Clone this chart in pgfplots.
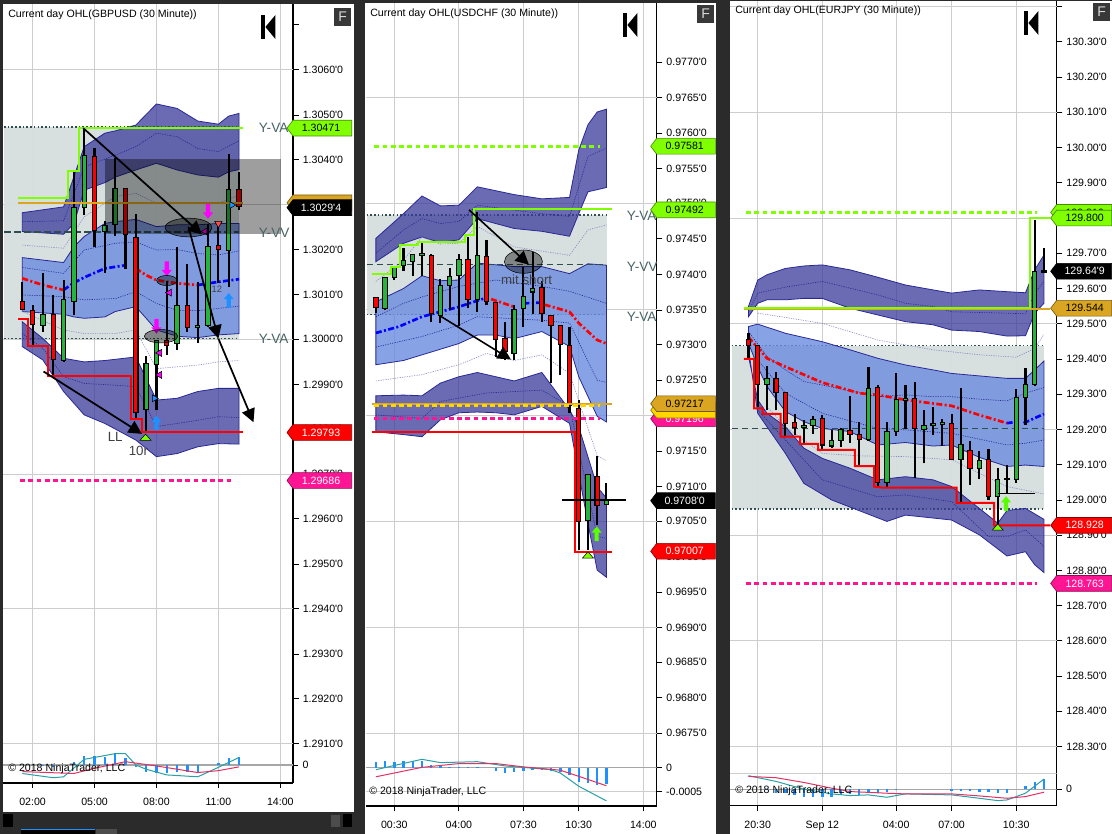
\documentclass[border=0pt]{standalone}
\usepackage{fontspec}
\setmainfont{Liberation Sans}
\usepackage{pgfplots}
\pgfplotsset{compat=1.18}
\usetikzlibrary{arrows.meta}
\definecolor{cr}{RGB}{255,0,0}
\definecolor{cg}{RGB}{40,180,60}
\definecolor{clime}{RGB}{128,255,0}
\definecolor{cgold}{RGB}{218,165,32}
\definecolor{cyel}{RGB}{255,215,0}
\definecolor{cpink}{RGB}{255,20,147}
\definecolor{cmag}{RGB}{255,0,255}
\definecolor{cslate}{RGB}{47,79,79}
\definecolor{cva}{RGB}{214,222,222}
\definecolor{gridc}{RGB}{205,205,205}
\definecolor{bandd}{RGB}{58,58,154}
\definecolor{bandm}{RGB}{106,140,224}
\definecolor{bedge}{RGB}{40,40,150}
\definecolor{cblue}{RGB}{30,144,255}
\definecolor{cteal}{RGB}{40,160,165}
\definecolor{csig}{RGB}{225,50,100}
\definecolor{cdark}{RGB}{43,43,43}
\definecolor{ctxt}{RGB}{70,100,100}
\newcommand\f{\fontsize{7.95}{9}\selectfont}
\newcommand\q{\textquotesingle}
\pgfdeclareplotmark{blockup}{%
  \pgfpathmoveto{\pgfqpoint{0pt}{1.55\pgfplotmarksize}}%
  \pgfpathlineto{\pgfqpoint{\pgfplotmarksize}{0.3\pgfplotmarksize}}%
  \pgfpathlineto{\pgfqpoint{0.42\pgfplotmarksize}{0.3\pgfplotmarksize}}%
  \pgfpathlineto{\pgfqpoint{0.42\pgfplotmarksize}{-1.4\pgfplotmarksize}}%
  \pgfpathlineto{\pgfqpoint{-0.42\pgfplotmarksize}{-1.4\pgfplotmarksize}}%
  \pgfpathlineto{\pgfqpoint{-0.42\pgfplotmarksize}{0.3\pgfplotmarksize}}%
  \pgfpathlineto{\pgfqpoint{-\pgfplotmarksize}{0.3\pgfplotmarksize}}%
  \pgfpathclose\pgfusepathqfill}
\newcommand\bw{0.42}
\newcommand\candle[6]{%
  \pgfmathsetmacro\xa{#1-\bw/2}\pgfmathsetmacro\xb{#1+\bw/2}%
  \addplot[forget plot,black,line width=1.6pt] coordinates {(#1,#2)(#1,#5)};
  \edef\tmpbody{\noexpand\addplot[forget plot,draw=black,fill=#6,line width=.8pt] coordinates {(\xa,#3)(\xb,#3)(\xb,#4)(\xa,#4)} -- cycle;}\tmpbody}
\newcommand\mk[5]{\addplot[forget plot,only marks,mark=#1,mark size=#4,mark options={rotate=#2,fill=#3,draw=none}] coordinates {#5};}
\newcommand\flattri[1]{\addplot[forget plot,only marks,mark=triangle*,mark size=4.8pt,mark options={yscale=.65,fill=clime,draw=none}] coordinates {#1};}
\newcommand\blob[4]{\addplot[forget plot,only marks,mark=*,mark size=#3,mark options={xscale=#4,fill=black,draw=none,fill opacity=.4}] coordinates {(#1,#2)};}
\pgfplotsset{
 pips/.style={y coord trafo/.code={\pgfmathparse{##1*10000}}},
 mainp/.style={scale only axis,axis y line*=right,axis x line*=bottom,x axis line style={draw=none},xtick style={draw=none},xticklabels={},xmajorgrids,clip=false,tick align=outside,major tick length=4.2pt,y tick style={black,line width=.6pt},y axis line style={black,line width=.9pt},yticklabel style={font=\f,anchor=west,xshift=-.4pt},major grid style={gridc,line width=.75pt},extra y tick style={grid=major},extra y tick labels={},scaled y ticks=false},
 oscp/.style={scale only axis,axis y line*=right,axis x line*=bottom,xmajorgrids,tick align=outside,major tick length=4pt,tick style={black,line width=.6pt},axis line style={black,line width=.9pt},yticklabel style={font=\f,anchor=west,xshift=-.4pt},xticklabel style={font=\f,yshift=-4pt},major grid style={gridc,line width=.75pt},scaled y ticks=false},
 db/.style={fill=bandd,fill opacity=.75,draw=bedge,line width=.6pt},
 mb/.style={fill=bandm,fill opacity=.8,draw=bedge,line width=.6pt},
 td/.style={bedge,line width=.45pt,dash pattern=on .9pt off .9pt},
 tl/.style={bedge!55,line width=.45pt,dash pattern=on .9pt off .9pt},
 ema/.style={line width=2pt,dash pattern=on 4.5pt off 1.8pt on 1.5pt off 1.8pt},
 vad/.style={cslate,line width=1.1pt,dash pattern=on 1.2pt off 1.6pt},
 vam/.style={cslate,line width=1.3pt,dash pattern=on 5pt off 2.5pt},
 pdash/.style={line width=2pt,dash pattern=on 3.6pt off 2.6pt},
 osbar/.style={ycomb,cblue,line width=1.8pt},
}
\newcommand\tagw{44pt}
\newcommand\pricetag[4]{%
  \draw[fill=#2,draw=#2!55!black,line width=.5pt] (#1) ++(-4.5pt,0) -- ++(4.5pt,5.9pt) -- ++(\tagw,0) -- ++(0,-11.8pt) -- ++(-\tagw,0) -- cycle;
  \node[text=#3,font=\f] at ([xshift=21pt]#1) {#4};}
\newcommand\kicon[2]{\fill[black] (#1*0.75pt,-#2*0.75pt) rectangle ++(3.3pt,-18pt);
  \fill[black] (#1*0.75pt+3.3pt,-#2*0.75pt-9pt) -- ++(7.5pt,9pt) -- ++(0,-18pt) -- cycle;}
\newcommand\ficon[2]{\fill[black!78] (#1*0.75pt,-#2*0.75pt) rectangle ++(12.8pt,-13.5pt);
  \node[text=white!85!black,font=\fontsize{10.5}{11}\selectfont] at (#1*0.75pt+6.4pt,-#2*0.75pt-6.75pt) {F};}
\newcommand\cpy[2]{\node[anchor=west,inner sep=0pt,font=\f] at (#1*0.75pt,-#2*0.75pt) {\textcopyright{} 2018 NinjaTrader, LLC};}
\newcommand\ttl[3]{\node[anchor=west,inner sep=0pt,font=\f] at (#1*0.75pt,-#2*0.75pt) {#3};}
\begin{document}
\begin{tikzpicture}
\path[use as bounding box] (0,0) rectangle (834pt,-625.5pt);
\fill[cdark] (0,0) rectangle (834pt,-625.5pt);
\fill[white] (2.25pt,-3pt) rectangle (265.5pt,-609pt);
\fill[white] (273.75pt,-2.25pt) rectangle (537pt,-625.5pt);
\fill[white] (547.5pt,-0.75pt) rectangle (834pt,-625.5pt);
% scrollbar and tab, panel 1
\fill[black] (2.25pt,-610.5pt) rectangle (10pt,-620.5pt);
\fill[black] (257pt,-610.5pt) rectangle (264pt,-620.5pt);
\fill[black!70] (248pt,-611pt) rectangle (255pt,-620pt);
\fill[black] (16pt,-621.5pt) rectangle (71pt,-625.5pt);
\fill[cblue] (16pt,-621.5pt) rectangle (71pt,-622pt);
\fill[black!70] (72pt,-621.5pt) rectangle (88pt,-625.5pt);
% ================= PANEL 1 =================
\begin{axis}[mainp,pips,at={(2.25pt,-564pt)},anchor=south west,width=217.5pt,height=561pt,
 xmin=-1.87,xmax=26.23,ymin=1.290815,ymax=1.30746,
 xtick={1,7,13,19,25},
 ytick={1.307,1.306,1.305,1.304,1.303,1.302,1.301,1.300,1.299,1.298,1.297,1.296,1.295,1.294,1.293,1.292,1.291},
 yticklabels={,1.3060\q0,1.3050\q0,1.3040\q0,1.3030\q0,1.3020\q0,1.3010\q0,1.3000\q0,1.2990\q0,1.2980\q0,1.2970\q0,1.2960\q0,1.2950\q0,1.2940\q0,1.2930\q0,1.2920\q0,1.2910\q0},
 extra y ticks={1.306,1.303,1.300,1.297,1.294,1.291}]
\addplot[fill=cva,draw=none,fill opacity=.95] coordinates {(-1.77,1.30473)(21,1.30473)(21,1.30002)(-1.77,1.30002)} -- cycle;
\addplot[vad] coordinates {(-1.77,1.30473)(21,1.30473)};
\addplot[vad] coordinates {(-1.77,1.30002)(21,1.30002)};
\addplot[db] coordinates {(0,1.30282)(4,1.30295)(6,1.30429)(8,1.30459)(9,1.30464)(11,1.30477)(13,1.30524)(15,1.30514)(17,1.30486)(19,1.30479)(20,1.30497)(21,1.30503)(21,1.30378)(20,1.30373)(19,1.30361)(17,1.30366)(15,1.30377)(13,1.30392)(11,1.30377)(9,1.30361)(8,1.30349)(6,1.30332)(5,1.30258)(4,1.30234)(0,1.30240)} -- cycle;
\addplot[mb] coordinates {(0,1.30182)(4,1.30171)(5,1.30206)(6,1.30229)(8,1.30258)(9,1.30262)(11,1.30267)(13,1.30251)(15,1.30255)(17,1.30255)(19,1.30258)(21,1.30258)(21,1.30013)(19,1.30010)(17,1.30004)(15,1.30007)(13,1.30021)(11,1.30073)(9,1.30062)(8,1.30050)(6,1.30047)(5,1.30050)(4,1.30056)(0,1.30062)} -- cycle;
\addplot[db] coordinates {(0,1.30039)(2,1.30002)(4,1.29958)(6,1.29950)(8,1.29953)(11,1.29961)(13,1.29865)(15,1.29869)(17,1.29884)(19,1.29891)(21,1.29891)(21,1.29767)(19,1.29768)(17,1.29761)(15,1.29746)(13,1.29739)(11,1.29776)(8,1.29813)(6,1.29832)(4,1.29884)(2,1.29954)(0,1.29984)} -- cycle;
\addplot[td] coordinates {(0,1.30262)(4,1.30264)(6,1.30384)(9,1.30410)(11,1.30429)(13,1.30459)(15,1.30451)(17,1.30425)(19,1.30418)(21,1.30442)};
\addplot[tl] coordinates {(0,1.30210)(4,1.30203)(6,1.30273)(9,1.30318)(11,1.30325)(13,1.30303)(15,1.30303)(17,1.30303)(19,1.30303)(21,1.30321)};
\addplot[td] coordinates {(0,1.30160)(4,1.30147)(6,1.30199)(9,1.30214)(11,1.30217)(13,1.30199)(15,1.30200)(17,1.30191)(19,1.30188)(21,1.30197)};
\addplot[td] coordinates {(0,1.30099)(4,1.30095)(6,1.30088)(9,1.30091)(11,1.30106)(13,1.30080)(15,1.30065)(17,1.30064)(19,1.30069)(21,1.30074)};
\addplot[tl] coordinates {(0,1.30062)(4,1.30021)(6,1.30013)(9,1.30013)(11,1.30021)(13,1.29935)(15,1.29939)(17,1.29943)(19,1.29950)(21,1.29953)};
\addplot[td] coordinates {(0,1.30013)(2,1.29980)(4,1.29917)(6,1.29902)(9,1.29898)(11,1.29895)(13,1.29806)(15,1.29813)(17,1.29820)(19,1.29828)(21,1.29826)};
\addplot[ema,cr] coordinates {(0,1.30136)(2,1.30121)(4,1.30110)};
\addplot[ema,blue] coordinates {(4,1.30110)(5,1.30126)(6,1.30138)(8,1.30158)(10,1.30165)};
\addplot[ema,cr] coordinates {(11,1.30158)(12,1.30143)(13,1.30132)(15,1.30125)(17,1.30121)};
\addplot[ema,blue] coordinates {(17,1.30121)(19,1.30128)(21,1.30134)};
\addplot[vam] coordinates {(-1.77,1.30239)(21,1.30239)};
\renewcommand\bw{0.42}
\candle{0}{1.30065}{1.30067}{1.30085}{1.30128}{cr}
\candle{1}{1.29987}{1.30033}{1.30065}{1.30076}{cr}
\candle{2}{1.30017}{1.30030}{1.30056}{1.30147}{cg}
\candle{3}{1.29921}{1.29955}{1.30056}{1.30099}{cr}
\candle{4}{1.29950}{1.29953}{1.30088}{1.30132}{cg}
\candle{5}{1.30054}{1.30085}{1.30294}{1.30373}{cg}
\candle{6}{1.30277}{1.30294}{1.30410}{1.30470}{cg}
\candle{7}{1.30206}{1.30243}{1.30408}{1.30425}{cr}
\candle{8}{1.30148}{1.30240}{1.30254}{1.30264}{cg}
\candle{9}{1.30231}{1.30255}{1.30336}{1.30403}{cg}
\candle{10}{1.30157}{1.30234}{1.30336}{1.30336}{cr}
\candle{11}{1.29824}{1.29838}{1.30227}{1.30279}{cr}
\candle{12}{1.29794}{1.29843}{1.29947}{1.29964}{cg}
\candle{13}{1.29843}{1.29944}{1.29997}{1.29999}{cg}
\candle{14}{1.29965}{1.29987}{1.29997}{1.30131}{cr}
\candle{15}{1.29976}{1.29991}{1.30076}{1.30205}{cg}
\candle{16}{1.30017}{1.30027}{1.30076}{1.30168}{cr}
\candle{17}{1.29993}{1.30027}{1.30031}{1.30128}{cg}
\candle{18}{1.30028}{1.30030}{1.30206}{1.30257}{cg}
\candle{19}{1.30125}{1.30200}{1.30209}{1.30255}{cr}
\candle{20}{1.30116}{1.30197}{1.30334}{1.30413}{cg}
\candle{21}{1.30288}{1.30295}{1.30334}{1.30372}{cr}
\addplot[clime,line width=1.5pt] coordinates {(-.38,1.30315)(4.46,1.30315)(4.46,1.30375)(5.49,1.30375)(5.49,1.30471)(21.42,1.30471)};
\addplot[cgold,line width=1.5pt] coordinates {(-.38,1.30304)(21.42,1.30304)};
\addplot[cr,line width=1.5pt] coordinates {(-.38,1.30045)(.52,1.30045)(.52,1.29986)(2.52,1.29986)(2.52,1.29919)(10.5,1.29919)(10.5,1.29823)(11.57,1.29823)(11.57,1.29793)(21.42,1.29793)};
\addplot[cpink,pdash] coordinates {(-.22,1.29686)(20.3,1.29686)};
\mk{blockup}{180}{cmag}{3.75pt}{(14,1.30158)(13,1.30030)(18,1.30286)}
\mk{blockup}{0}{cblue}{3.75pt}{(20,1.30086)(13,1.29813)}
\mk{triangle*}{90}{cmag}{3pt}{(14.26,1.30104)(13.3,1.29970)(13.3,1.29921)(17.7,1.30240)}
\mk{triangle*}{-90}{cblue}{3pt}{(12.8,1.29869)(20.3,1.30299)}
\mk{triangle*}{180}{cr!70}{3.2pt}{(19,1.30258)}
\flattri{(11.94,1.29780)}
\addplot[forget plot,fill=black,fill opacity=.38,draw=none] coordinates {(8.01,1.30401)(25.07,1.30401)(25.07,1.30234)(8.01,1.30234)} -- cycle;
\blob{16.1}{1.30249}{7pt}{2.5}
\blob{14}{1.30131}{3.8pt}{2}
\blob{13.44}{1.30007}{5pt}{2.5}
\draw[black,line width=1.3pt,-{Triangle[length=10pt,width=10pt]}] (axis cs:5.9,1.30470) -- (axis cs:17.4,1.30234);
\draw[black,line width=1.3pt,-{Triangle[length=10pt,width=10pt]}] (axis cs:16.1,1.30251) -- (axis cs:19,1.30002);
\draw[black,line width=1.3pt,-{Triangle[length=10pt,width=10pt]}] (axis cs:19,1.30002) -- (axis cs:22.4,1.29815);
\draw[black,line width=1.3pt,-{Triangle[length=10pt,width=10pt]}] (axis cs:2.06,1.29928) -- (axis cs:11.6,1.29789);
\node[anchor=west,inner sep=0pt,text=ctxt,font=\fontsize{10.2}{11}\selectfont] at (axis cs:22.9,1.30470) {Y-VA};
\node[anchor=west,inner sep=0pt,text=ctxt,font=\fontsize{10.2}{11}\selectfont] at (axis cs:22.9,1.30237) {Y-VV};
\node[anchor=west,inner sep=0pt,text=ctxt,font=\fontsize{10.2}{11}\selectfont] at (axis cs:22.9,1.30000) {Y-VA};
\node[text=black!75,font=\fontsize{10}{11}\selectfont] at (axis cs:9,1.29782) {LL};
\node[text=black!75,font=\fontsize{10}{11}\selectfont] at (axis cs:11.25,1.29751) {10r};
\node[text=black!75,font=\fontsize{7}{8}\selectfont] at (axis cs:18.85,1.30112) {12};
\coordinate (a1) at (axis cs:26.23,1.30471);
\coordinate (a2) at (axis cs:26.23,1.30304);
\coordinate (a3) at (axis cs:26.23,1.30294);
\coordinate (a4) at (axis cs:26.23,1.29793);
\coordinate (a5) at (axis cs:26.23,1.29686);
\end{axis}
\begin{axis}[oscp,pips,at={(2.25pt,-587.25pt)},anchor=south west,width=217.5pt,height=23.25pt,
 xmin=-1.87,xmax=26.23,ymin=-.000383,ymax=.00028,
 xtick={1,7,13,19,25},xticklabels={02:00,05:00,08:00,11:00,14:00},
 ytick={0},yticklabels={0}]
\addplot[gridc,line width=1pt] coordinates {(-1.87,.00028)(26.23,.00028)};
\addplot[black!35,line width=1pt] coordinates {(-1.87,0)(26.23,0)};
\addplot[osbar] coordinates {(2,-.00003)(3,-.00004)(5,.00006)(6,.00019)(7,.00018)(8,.00016)(9,.00025)(10,.00014)(11,-.00005)(12,-.00014)(13,-.00018)(14,-.00018)(15,-.00014)(16,-.00014)(17,-.00014)(19,.00005)(20,.00014)(21,.00016)};
\addplot[cteal,line width=.75pt] coordinates {(0,-.00018)(3,-.00027)(4,-.00025)(6,.00012)(9,.00024)(10,.00024)(11,0)(12,-.00009)(14,-.00021)(17,-.00025)(19,-.00005)(21,.00016)};
\addplot[csig,line width=.75pt] coordinates {(0,-.00014)(5,-.00018)(7,-.00007)(10,.00007)(13,-.00002)(17,-.00016)(19,-.00012)(21,-.00004)};
\end{axis}
% ================= PANEL 2 =================
\begin{axis}[mainp,pips,at={(274.5pt,-567.75pt)},anchor=south west,width=218pt,height=565.5pt,
 xmin=-1.07,xmax=30.45,ymin=.96716,ymax=.97784,
 xtick={2,9,16,22,29},
 ytick={.977,.9765,.976,.9755,.975,.9745,.974,.9735,.973,.9725,.972,.9715,.971,.9705,.97,.9695,.969,.9685,.968,.9675},
 yticklabels={0.9770\q0,0.9765\q0,0.9760\q0,0.9755\q0,0.9750\q0,0.9745\q0,0.9740\q0,0.9735\q0,0.9730\q0,0.9725\q0,0.9720\q0,0.9715\q0,0.9710\q0,0.9705\q0,0.9700\q0,0.9695\q0,0.9690\q0,0.9685\q0,0.9680\q0,0.9675\q0},
 extra y ticks={.9765,.975,.9735,.972,.9705,.969,.9675}]
\addplot[fill=cva,draw=none,fill opacity=.95] coordinates {(-1,.97484)(25.02,.97484)(25.02,.97343)(-1,.97343)} -- cycle;
\addplot[vad] coordinates {(-1,.97484)(25.02,.97484)};
\addplot[vad] coordinates {(-1,.97343)(25.02,.97343)};
\addplot[db] coordinates {(0,.97451)(3,.97486)(5,.97511)(7,.97497)(9,.97498)(11,.97524)(15,.97513)(18,.97507)(21,.97509)(22,.97576)(23,.97612)(24,.97630)(25,.97634)(25,.97523)(23,.97517)(22,.97486)(21,.97454)(18,.97461)(15,.97465)(11,.97479)(9,.97449)(7,.97445)(5,.97453)(3,.97444)(0,.97418)} -- cycle;
\addplot[mb] coordinates {(0,.97361)(3,.97380)(5,.97398)(7,.97391)(9,.97392)(11,.97416)(15,.97411)(18,.97411)(21,.97401)(23,.97415)(25,.97413)(25,.97191)(24,.97199)(22,.97255)(21,.97298)(18,.97319)(15,.97309)(13,.97314)(11,.97314)(9,.97302)(7,.97294)(5,.97286)(3,.97278)(0,.97272)} -- cycle;
\addplot[db] coordinates {(0,.97228)(3,.97229)(5,.97228)(7,.97246)(9,.97255)(11,.97261)(13,.97255)(15,.97249)(18,.97261)(21,.97208)(22,.97184)(24,.97099)(25,.97083)(25,.96971)(24,.96981)(23,.97047)(22,.97118)(21,.97189)(18,.97213)(15,.97201)(13,.97204)(11,.97205)(9,.97204)(7,.97194)(5,.97170)(3,.97173)(0,.97177)} -- cycle;
\addplot[td] coordinates {(0,.97430)(3,.97463)(5,.97479)(7,.97472)(9,.97475)(11,.97498)(15,.97491)(18,.97486)(21,.97482)(23,.97567)(25,.97579)};
\addplot[tl] coordinates {(0,.97390)(3,.97420)(5,.97453)(7,.97443)(9,.97444)(11,.97468)(15,.97439)(21,.97427)(23,.97463)(25,.97470)};
\addplot[td] coordinates {(0,.97340)(3,.97359)(5,.97368)(9,.97383)(13,.97392)(18,.97383)(21,.97376)(25,.97359)};
\addplot[td] coordinates {(0,.97297)(5,.97312)(9,.97328)(11,.97340)(18,.97335)(21,.97331)(24,.97250)(25,.97247)};
\addplot[tl] coordinates {(0,.97249)(5,.97258)(9,.97272)(12,.97288)(15,.97278)(18,.97286)(21,.97260)(24,.97143)(25,.97136)};
\addplot[td] coordinates {(0,.97201)(5,.97196)(7,.97220)(12,.97232)(18,.97236)(21,.97213)(24,.97029)(25,.97026)};
\addplot[ema,blue] coordinates {(0,.97317)(2.5,.97326)(5,.97340)(9,.97354)(12,.97367)};
\addplot[ema,cr] coordinates {(12.5,.97365)(15,.97354)};
\addplot[ema,blue] coordinates {(16,.97359)(18,.97360)};
\addplot[ema,cr] coordinates {(18.3,.97357)(21,.97347)(22,.97331)(24,.97307)(25,.97302)};
\addplot[vam] coordinates {(-1,.97414)(25.02,.97414)};
\renewcommand\bw{0.47}
\candle{0}{.97345}{.97353}{.97367}{.97367}{cr}
\candle{1}{.97350}{.97351}{.97396}{.97396}{cg}
\candle{2}{.97392}{.97395}{.97410}{.97411}{cg}
\candle{3}{.97405}{.97412}{.97419}{.97438}{cg}
\candle{4}{.97397}{.97418}{.97428}{.97428}{cg}
\candle{5}{.97398}{.97427}{.97429}{.97445}{cg}
\candle{6}{.97332}{.97344}{.97427}{.97429}{cr}
\candle{7}{.97331}{.97342}{.97384}{.97394}{cg}
\candle{8}{.97350}{.97384}{.97397}{.97409}{cg}
\candle{9}{.97327}{.97398}{.97421}{.97429}{cg}
\candle{10}{.97353}{.97364}{.97421}{.97453}{cr}
\candle{11}{.97346}{.97364}{.97427}{.97489}{cg}
\candle{12}{.97356}{.97361}{.97425}{.97449}{cr}
\candle{13}{.97283}{.97308}{.97360}{.97360}{cr}
\candle{14}{.97278}{.97291}{.97309}{.97333}{cr}
\candle{15}{.97278}{.97288}{.97350}{.97357}{cg}
\candle{16}{.97326}{.97352}{.97368}{.97411}{cg}
\candle{17}{.97344}{.97375}{.97380}{.97431}{cg}
\candle{18}{.97333}{.97344}{.97382}{.97390}{cr}
\candle{19}{.97246}{.97328}{.97342}{.97342}{cr}
\candle{20}{.97258}{.97300}{.97327}{.97327}{cr}
\candle{21}{.97203}{.97215}{.97299}{.97325}{cr}
\candle{22}{.97010}{.97050}{.97210}{.97222}{cr}
\candle{23}{.97010}{.97052}{.97117}{.97117}{cg}
\candle{24}{.97045}{.97073}{.97114}{.97143}{cr}
\candle{25}{.97073}{.97074}{.97081}{.97104}{cg}
\addplot[clime,pdash] coordinates {(-.17,.97581)(24.3,.97581)};
\addplot[clime,line width=1.5pt] coordinates {(-.39,.97401)(1.64,.97401)(1.64,.97411)(2.61,.97411)(2.61,.97441)(4.53,.97441)(4.53,.97446)(9.66,.97446)(9.66,.97456)(10.64,.97456)(10.64,.97492)(25.56,.97492)};
\addplot[cgold,line width=1.5pt] coordinates {(-.39,.97217)(25.56,.97217)};
\addplot[cyel,pdash] coordinates {(-.17,.97214)(24.3,.97214)};
\addplot[cpink,pdash] coordinates {(-.17,.97196)(24.3,.97196)};
\addplot[cr,line width=1.5pt] coordinates {(-.39,.97177)(21.59,.97177)(21.59,.97007)(25.56,.97007)};
\addplot[black,line width=1.3pt] coordinates {(20.14,.9708)(27.08,.9708)};
\mk{blockup}{0}{clime!70!green}{3.75pt}{(23.94,.97032)}
\flattri{(23,.97001)}
\blob{16}{.97418}{8.75pt}{1.63}
\draw[black,line width=1.2pt,-{Triangle[length=10pt,width=10pt]}] (axis cs:10.1,.97491) -- (axis cs:16.6,.97413);
\draw[black,line width=1.2pt,-{Triangle[length=10pt,width=10pt]}] (axis cs:7.06,.97340) -- (axis cs:14.65,.97280);
\node[anchor=west,inner sep=0pt,text=ctxt,font=\fontsize{10.2}{11}\selectfont] at (axis cs:27.2,.97482) {Y-VA};
\node[anchor=west,inner sep=0pt,text=ctxt,font=\fontsize{10.2}{11}\selectfont] at (axis cs:27.2,.97411) {Y-VV};
\node[anchor=west,inner sep=0pt,text=ctxt,font=\fontsize{10.2}{11}\selectfont] at (axis cs:27.2,.97340) {Y-VA};
\node[text=black!75,font=\fontsize{10}{11}\selectfont] at (axis cs:16.35,.97393) {mit short};
\coordinate (b1) at (axis cs:30.45,.97581);
\coordinate (b2) at (axis cs:30.45,.97492);
\coordinate (b3) at (axis cs:30.45,.97196);
\coordinate (b4) at (axis cs:30.45,.97208);
\coordinate (b5) at (axis cs:30.45,.97217);
\coordinate (b6) at (axis cs:30.45,.9708);
\coordinate (b7) at (axis cs:30.45,.97007);
\end{axis}
\begin{axis}[oscp,pips,at={(274.5pt,-604.5pt)},anchor=south west,width=218pt,height=36.75pt,
 xmin=-1.07,xmax=30.45,ymin=-.000813,ymax=.000236,
 xtick={2,9,16,22,29},xticklabels={00:30,04:00,07:30,10:30,14:00},
 ytick={0,-.0005},yticklabels={0,-0.0005},ymajorgrids]
\addplot[gridc,line width=1pt] coordinates {(-1.07,.000236)(30.45,.000236)};
\addplot[black!35,line width=1pt] coordinates {(-1.07,0)(30.45,0)};
\addplot[osbar] coordinates {(0,.00012)(1,.00014)(2,.00013)(3,.00014)(4,.00014)(5,.00014)(6,.00007)(7,.00006)(8,.00002)(9,.00001)(10,.00001)(11,.00001)(13,-.00007)(14,-.00011)(15,-.00009)(16,-.00007)(17,-.00005)(18,-.00005)(19,-.00007)(20,-.00009)(21,-.00016)(22,-.00029)(23,-.00032)(24,-.00036)(25,-.00034)};
\addplot[cteal,line width=.75pt] coordinates {(0,-.00004)(2,.00005)(5,.00018)(7,.00011)(11,.00013)(14,.00004)(19,-.00004)(20,-.00011)(22,-.00039)(25,-.00070)};
\addplot[csig,line width=.75pt] coordinates {(0,-.00019)(5,.00001)(9,.00009)(13,.00009)(16,.00002)(20,-.00005)(22,-.00018)(25,-.00038)};
\end{axis}
% ================= PANEL 3 =================
\begin{axis}[mainp,at={(547.5pt,-579.75pt)},anchor=south west,width=245pt,height=579pt,
 xmin=-2,xmax=33.38,ymin=128.225,ymax=130.416,
 xtick={1,8,16,22,29},
 ytick={130.3,130.2,130.1,130.0,129.9,129.8,129.7,129.6,129.5,129.4,129.3,129.2,129.1,129.0,128.9,128.8,128.7,128.6,128.5,128.4,128.3},
 yticklabels={130.30\q0,130.20\q0,130.10\q0,130.00\q0,129.90\q0,129.80\q0,129.70\q0,129.60\q0,129.50\q0,129.40\q0,129.30\q0,129.20\q0,129.10\q0,129.00\q0,128.90\q0,128.80\q0,128.70\q0,128.60\q0,128.50\q0,128.40\q0,128.30\q0},
 extra y ticks={130.4,130.1,129.8,129.5,129.2,128.9,128.6,128.3}]
\addplot[fill=cva,draw=none,fill opacity=.95] coordinates {(-1.82,129.438)(32,129.438)(32,128.974)(-1.82,128.974)} -- cycle;
\addplot[vad] coordinates {(-1.82,129.438)(32,129.438)};
\addplot[vad] coordinates {(-1.82,128.974)(32,128.974)};
\addplot[db] coordinates {(0,129.549)(1,129.624)(2,129.639)(4,129.657)(6,129.664)(8,129.667)(11,129.653)(14,129.632)(17,129.610)(20,129.596)(22,129.587)(25,129.596)(28,129.591)(30,129.588)(31,129.653)(32,129.695)(32,129.558)(31,129.530)(30,129.466)(28,129.465)(25,129.478)(22,129.482)(20,129.497)(17,129.506)(14,129.525)(11,129.544)(8,129.572)(6,129.572)(4,129.568)(2,129.568)(1,129.558)(0,129.520)} -- cycle;
\addplot[mb] coordinates {(0,129.492)(1,129.499)(4,129.473)(8,129.449)(11,129.426)(14,129.402)(17,129.383)(20,129.369)(22,129.359)(28,129.345)(30,129.345)(31,129.369)(32,129.394)(32,129.095)(30,129.099)(28,129.095)(25,129.121)(22,129.156)(20,129.153)(17,129.163)(14,129.156)(11,129.194)(8,129.203)(6,129.222)(4,129.251)(2,129.322)(1,129.378)(0,129.445)} -- cycle;
\addplot[db] coordinates {(0,129.407)(1,129.284)(2,129.246)(4,129.208)(6,129.147)(8,129.118)(11,129.090)(14,129.057)(17,129.066)(20,129.057)(22,129.038)(25,128.976)(27,128.934)(28,128.970)(30,128.976)(32,128.945)(32,128.794)(31,128.816)(30,128.853)(28,128.841)(25,128.901)(22,128.943)(17,128.957)(15,128.939)(9,129.000)(6,129.047)(4,129.132)(1,129.246)(0,129.430)} -- cycle;
\addplot[td] coordinates {(0,129.534)(1,129.587)(4,129.604)(8,129.620)(11,129.601)(14,129.582)(17,129.558)(20,129.549)(22,129.534)(28,129.530)(30,129.528)(31,129.587)(32,129.620)};
\addplot[tl] coordinates {(1,129.530)(4,129.518)(8,129.501)(14,129.454)(20,129.426)(25,129.412)(29,129.405)(31,129.430)(32,129.470)};
\addplot[td] coordinates {(0,129.478)(2,129.407)(4,129.369)(6,129.336)(8,129.326)(14,129.293)(17,129.298)(20,129.293)(22,129.293)(25,129.286)(28,129.281)(30,129.303)(32,129.319)};
\addplot[td] coordinates {(1,129.397)(4,129.303)(8,129.246)(14,129.203)(17,129.199)(22,129.189)(28,129.156)(30,129.161)(32,129.170)};
\addplot[tl] coordinates {(2,129.265)(4,129.208)(8,129.132)(12,129.125)(17,129.123)(22,129.114)(28,129.038)(32,129.017)};
\addplot[td] coordinates {(1,129.255)(4,129.170)(8,129.057)(14,129.009)(17,129.014)(22,128.995)(26,128.896)(28,128.896)(30,128.915)(32,128.868)};
\addplot[ema,cr] coordinates {(0,129.462)(2,129.402)(4,129.378)(8,129.333)(12,129.303)(14,129.298)(17,129.284)(22,129.267)(25,129.241)(28,129.218)};
\addplot[ema,blue] coordinates {(28,129.218)(28.6,129.220)};
\addplot[ema,blue] coordinates {(29.8,129.218)(32,129.244)};
\addplot[vam] coordinates {(-1.82,129.203)(32,129.203)};
\renewcommand\bw{0.47}
\candle{0}{129.402}{129.438}{129.456}{129.473}{cr}
\candle{1}{129.265}{129.328}{129.437}{129.437}{cr}
\candle{2}{129.254}{129.328}{129.345}{129.380}{cg}
\candle{3}{129.254}{129.306}{129.345}{129.363}{cr}
\candle{4}{129.182}{129.218}{129.306}{129.306}{cr}
\candle{5}{129.184}{129.206}{129.220}{129.244}{cr}
\candle{6}{129.163}{129.206}{129.212}{129.227}{cg}
\candle{7}{129.187}{129.212}{129.229}{129.238}{cg}
\candle{8}{129.144}{129.156}{129.231}{129.240}{cr}
\candle{9}{129.147}{129.153}{129.168}{129.199}{cg}
\candle{10}{129.149}{129.170}{129.199}{129.203}{cg}
\candle{11}{129.163}{129.186}{129.197}{129.295}{cr}
\candle{12}{129.098}{129.172}{129.186}{129.221}{cr}
\candle{13}{129.168}{129.172}{129.316}{129.377}{cg}
\candle{14}{129.040}{129.050}{129.320}{129.326}{cr}
\candle{15}{129.038}{129.050}{129.194}{129.222}{cg}
\candle{16}{129.182}{129.193}{129.286}{129.359}{cg}
\candle{17}{129.201}{129.283}{129.288}{129.326}{cg}
\candle{18}{129.061}{129.204}{129.288}{129.335}{cr}
\candle{19}{129.104}{129.201}{129.212}{129.255}{cg}
\candle{20}{129.184}{129.211}{129.217}{129.263}{cg}
\candle{21}{129.153}{129.215}{129.220}{129.229}{cg}
\candle{22}{129.115}{129.115}{129.218}{129.244}{cr}
\candle{23}{128.995}{129.115}{129.158}{129.317}{cg}
\candle{24}{129.043}{129.090}{129.140}{129.168}{cr}
\candle{25}{129.059}{129.090}{129.112}{129.140}{cg}
\candle{26}{129.000}{129.009}{129.115}{129.144}{cr}
\candle{27}{128.929}{129.009}{129.059}{129.092}{cg}
\candle{28}{129.019}{129.057}{129.061}{129.099}{black}
\candle{29}{129.049}{129.059}{129.291}{129.314}{cg}
\candle{30}{129.213}{129.291}{129.328}{129.374}{cg}
\candle{31}{129.322}{129.328}{129.648}{129.795}{cg}
\candle{32}{129.643}{129.646}{129.650}{129.714}{black}
\addplot[clime,pdash] coordinates {(-.27,129.816)(31.2,129.816)};
\addplot[cgold,line width=1.5pt] coordinates {(-.49,129.542)(32.65,129.542)};
\addplot[clime,line width=1.5pt] coordinates {(-.49,129.546)(30.5,129.546)(30.5,129.800)(32.65,129.800)};
\addplot[cr,line width=1.5pt] coordinates {(-.49,129.400)(.6,129.400)(.6,129.260)(1.53,129.260)(1.53,129.244)(3.48,129.244)(3.48,129.180)(5.58,129.180)(5.58,129.159)(7.53,129.159)(7.53,129.142)(11.53,129.142)(11.53,129.096)(13.6,129.096)(13.6,129.038)(14.5,129.035)(22.55,129.035)(22.55,128.992)(26.6,128.992)(26.6,128.928)(32.65,128.928)};
\addplot[cpink,pdash] coordinates {(-.27,128.763)(31.2,128.763)};
\addplot[black,line width=1.2pt] coordinates {(27.06,129.018)(31.03,129.018)};
\mk{blockup}{0}{clime!70!green}{3.75pt}{(27.9,128.989)}
\flattri{(27,128.920)}
\coordinate (c1) at (axis cs:33.38,129.816);
\coordinate (c2) at (axis cs:33.38,129.800);
\coordinate (c3) at (axis cs:33.38,129.649);
\coordinate (c4) at (axis cs:33.38,129.544);
\coordinate (c5) at (axis cs:33.38,128.928);
\coordinate (c6) at (axis cs:33.38,128.763);
\end{axis}
\begin{axis}[oscp,at={(547.5pt,-604pt)},anchor=south west,width=245pt,height=24.25pt,
 xmin=-2,xmax=33.38,ymin=-.048,ymax=.048,
 xtick={1,8,16,22,29},xticklabels={20:30,Sep 12,04:00,07:00,10:30},
 ytick={0},yticklabels={0}]
\addplot[gridc,line width=1pt] coordinates {(-2,.048)(33.38,.048)};
\addplot[black!35,line width=1pt] coordinates {(-2,0)(33.38,0)};
\addplot[osbar] coordinates {(2,-.002)(3,-.010)(4,-.012)(5,-.017)(6,-.022)(7,-.022)(8,-.022)(9,-.022)(10,-.017)(11,-.014)(12,-.017)(13,-.012)(14,-.012)(15,-.009)(16,-.002)(22,-.004)(23,-.005)(24,-.005)(25,-.007)(26,-.008)(27,-.010)(28,-.010)(30,.008)(31,.021)(32,.030)};
\addplot[cteal,line width=.75pt] coordinates {(0,.040)(3,.023)(6,0)(9,-.014)(11,-.019)(13,-.017)(15,-.024)(17,-.014)(22,-.017)(25,-.027)(27,-.034)(28,-.032)(30,-.012)(32,.030)};
\addplot[csig,line width=.75pt] coordinates {(0,.038)(3,.034)(6,.020)(9,.003)(11,-.007)(15,-.012)(17,-.014)(22,-.014)(25,-.020)(28,-.027)(30,-.022)(32,-.009)};
\end{axis}
% price tags, drawn over the tick labels
\renewcommand\tagw{44pt}
\pricetag{a1}{clime}{black}{1.30471}
\pricetag{a2}{cgold}{black}{}
\pricetag{a3}{black}{white}{1.3029\q4}
\pricetag{a4}{cr}{white}{1.29793}
\pricetag{a5}{cpink}{white}{1.29686}
\pricetag{b1}{clime}{black}{0.97581}
\pricetag{b2}{clime}{black}{0.97492}
\pricetag{b3}{cpink}{white}{0.97196}
\pricetag{b4}{cyel}{black}{}
\pricetag{b5}{cgold}{black}{0.97217}
\pricetag{b6}{black}{white}{0.9708\q0}
\pricetag{b7}{cr}{white}{0.97007}
\renewcommand\tagw{41.3pt}
\pricetag{c1}{clime}{black}{129.816}
\pricetag{c2}{clime}{black}{129.800}
\pricetag{c3}{black}{white}{129.64\q9}
\pricetag{c4}{cgold}{black}{129.544}
\pricetag{c5}{cr}{white}{128.928}
\pricetag{c6}{cpink}{white}{128.763}
\ttl{8}{15}{Current day OHL(GBPUSD (30 Minute))}
\ttl{370}{14}{Current day OHL(USDCHF (30 Minute))}
\ttl{735}{11}{Current day OHL(EURJPY (30 Minute))}
\kicon{261}{15}\kicon{623}{13}\kicon{1024}{11}
\ficon{334}{8}\ficon{697}{5}\ficon{1093}{3}
\cpy{8}{769}\cpy{369}{792}\cpy{735}{791}
\end{tikzpicture}
\end{document}
